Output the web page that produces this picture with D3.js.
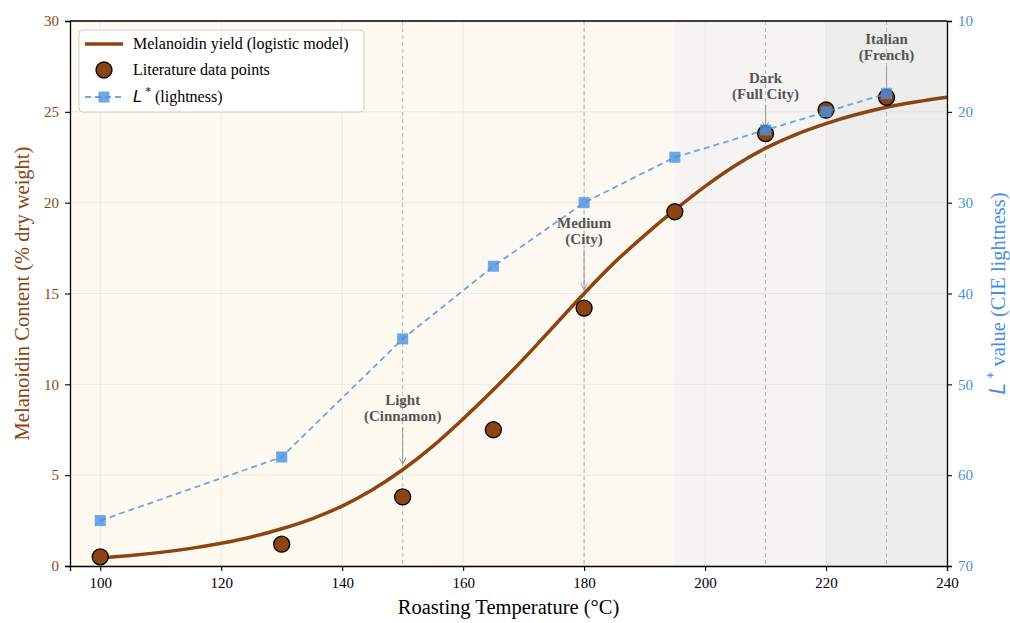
<!DOCTYPE html>
<html>
<head>
<meta charset="utf-8">
<script src="https://cdn.jsdelivr.net/npm/d3@7"></script>
<style>
  body { margin: 0; background: #fff; }
  svg text { font-family: "Liberation Serif", "Times New Roman", serif; }
</style>
</head>
<body>
<div id="chart"></div>
<script>
// measured points
const tempPoints = [100, 130, 150, 165, 180, 195, 210, 220, 230];
const melanoidin = [0.5, 1.2, 3.8, 7.5, 14.2, 19.5, 23.8, 25.1, 25.8];
const lightness = [65, 58, 45, 37, 30, 25, 22, 20, 18];

// logistic model curve
const curveTemps = [100, 105, 110, 115, 120, 125, 130, 135, 140, 145, 150, 155, 160, 165, 170, 175, 180, 185, 190, 195, 200, 205, 210, 215, 220, 225, 230, 235, 240];
const curveYield = [0.45, 0.58, 0.75, 0.97, 1.25, 1.6, 2.05, 2.6, 3.3, 4.2, 5.3, 6.6, 8.1, 9.7, 11.4, 13.2, 15.0, 16.7, 18.2, 19.6, 20.9, 22.05, 23.0, 23.75, 24.35, 24.85, 25.25, 25.55, 25.8];

// roast level bands
const bandStart = [90, 155, 195, 220];
const bandEnd = [155, 195, 220, 245];
const bandColor = ["#fefaf0", "#fdf8f1", "#f6f4f2", "#ededec"];

// roast level annotations
const roastTemps = [150, 180, 210, 230];
const roastTop = ["Light", "Medium", "Dark", "Italian"];
const roastBottom = ["(Cinnamon)", "(City)", "(Full City)", "(French)"];
const roastTextY = [8.85, 18.6, 26.6, 28.75];
const roastTarget = [5.6, 15.2, 24.1, 26.0];

const xTicks = [100, 120, 140, 160, 180, 200, 220, 240];
const yTicks = [0, 5, 10, 15, 20, 25, 30];
const lTicks = [10, 20, 30, 40, 50, 60, 70];

const brown = "#8B4513";
const blue = "#4A90E2";
const serif = "Liberation Serif";

const W = 1010, H = 623;
const margin = { top: 21, right: 63, bottom: 57, left: 70 };
const width = W - margin.left - margin.right;
const height = H - margin.top - margin.bottom;

const svg = d3.select("#chart").append("svg")
    .attr("width", W)
    .attr("height", H);

const g = svg.append("g")
    .attr("transform", `translate(${margin.left},${margin.top})`);

const x = d3.scaleLinear().domain([95, 240]).range([0, width]);
const y = d3.scaleLinear().domain([0, 30]).range([height, 0]);
const yL = d3.scaleLinear().domain([10, 70]).range([0, height]);

svg.append("defs").append("clipPath").attr("id", "clip")
    .append("rect").attr("width", width).attr("height", height);

const plot = g.append("g").attr("clip-path", "url(#clip)");

// background bands
plot.selectAll(".band")
    .data(bandStart)
    .enter().append("rect")
    .attr("x", d => x(d))
    .attr("y", 0)
    .attr("width", (d, i) => x(bandEnd[i]) - x(d))
    .attr("height", height)
    .attr("fill", (d, i) => bandColor[i]);

// grid
plot.selectAll(".vgrid")
    .data(xTicks)
    .enter().append("line")
    .attr("x1", d => x(d)).attr("x2", d => x(d))
    .attr("y1", 0).attr("y2", height)
    .attr("stroke", "#b0b0b0").attr("stroke-opacity", 0.25).attr("stroke-width", 0.8);
plot.selectAll(".hgrid")
    .data(yTicks)
    .enter().append("line")
    .attr("x1", 0).attr("x2", width)
    .attr("y1", d => y(d)).attr("y2", d => y(d))
    .attr("stroke", "#b0b0b0").attr("stroke-opacity", 0.25).attr("stroke-width", 0.8);

// roast level dashed lines
plot.selectAll(".rline")
    .data(roastTemps)
    .enter().append("line")
    .attr("x1", d => x(d)).attr("x2", d => x(d))
    .attr("y1", 0).attr("y2", height)
    .attr("stroke", "#999").attr("stroke-opacity", 0.7)
    .attr("stroke-width", 1).attr("stroke-dasharray", "4,3");

// logistic curve
const curveData = curveTemps.map((t, i) => [t, curveYield[i]]);
plot.append("path")
    .datum(curveData)
    .attr("fill", "none")
    .attr("stroke", brown)
    .attr("stroke-width", 3.5)
    .attr("d", d3.line().x(d => x(d[0])).y(d => y(d[1])).curve(d3.curveCatmullRom));

// annotations
svg.append("defs").append("marker")
    .attr("id", "arrow")
    .attr("viewBox", "0 0 10 10")
    .attr("refX", 9).attr("refY", 5)
    .attr("markerWidth", 8).attr("markerHeight", 8)
    .attr("markerUnits", "userSpaceOnUse")
    .attr("orient", "auto")
    .append("path")
    .attr("d", "M1,1 L9,5 L1,9")
    .attr("fill", "none")
    .attr("stroke", "#999")
    .attr("stroke-width", 1.2);

roastTemps.forEach((t, i) => {
    const tx = x(t);
    const ty = y(roastTextY[i]);
    plot.append("line")
        .attr("x1", tx).attr("x2", tx)
        .attr("y1", ty + 22).attr("y2", y(roastTarget[i]))
        .attr("stroke", "#999").attr("stroke-width", 1)
        .attr("marker-end", "url(#arrow)");
    const txt = plot.append("text")
        .attr("text-anchor", "middle")
        .attr("font-weight", "bold")
        .attr("font-size", 15)
        .attr("fill", "#555");
    txt.append("tspan").attr("x", tx).attr("y", ty).text(roastTop[i]);
    txt.append("tspan").attr("x", tx).attr("y", ty + 16).text(roastBottom[i]);
});

// literature points
plot.selectAll(".pt")
    .data(tempPoints)
    .enter().append("circle")
    .attr("cx", d => x(d))
    .attr("cy", (d, i) => y(melanoidin[i]))
    .attr("r", 8)
    .attr("fill", brown)
    .attr("stroke", "#000")
    .attr("stroke-width", 1.3);

// L* line
const lData = tempPoints.map((t, i) => [t, lightness[i]]);
plot.append("path")
    .datum(lData)
    .attr("fill", "none")
    .attr("stroke", blue)
    .attr("stroke-opacity", 0.8)
    .attr("stroke-width", 1.8)
    .attr("stroke-dasharray", "6,4")
    .attr("d", d3.line().x(d => x(d[0])).y(d => yL(d[1])));

plot.selectAll(".sq")
    .data(lData)
    .enter().append("rect")
    .attr("x", d => x(d[0]) - 5.5)
    .attr("y", d => yL(d[1]) - 5.5)
    .attr("width", 11).attr("height", 11)
    .attr("fill", blue)
    .attr("fill-opacity", 0.8);

// axes
const xAxis = g.append("g")
    .attr("transform", `translate(0,${height})`)
    .call(d3.axisBottom(x).tickValues(xTicks).tickSize(5).tickPadding(6));
xAxis.selectAll("text").attr("font-size", 15).attr("fill", "#000");

const yAxis = g.append("g")
    .call(d3.axisLeft(y).tickValues(yTicks).tickSize(5).tickPadding(6));
yAxis.selectAll("text").attr("font-size", 15).attr("fill", brown);

const yAxisR = g.append("g")
    .attr("transform", `translate(${width},0)`)
    .call(d3.axisRight(yL).tickValues(lTicks).tickSize(5).tickPadding(6));
yAxisR.selectAll("text").attr("font-size", 15).attr("fill", blue);

[xAxis, yAxis, yAxisR].forEach(a => {
    a.attr("font-family", serif);
    a.select(".domain").attr("stroke", "#000").attr("stroke-width", 1.3);
    a.selectAll(".tick line").attr("stroke", "#000").attr("stroke-width", 1.1);
});

// top spine
g.append("line")
    .attr("x1", 0).attr("x2", width).attr("y1", 0).attr("y2", 0)
    .attr("stroke", "#000").attr("stroke-width", 1.3);

// axis labels
svg.append("text")
    .attr("x", margin.left + width / 2)
    .attr("y", 614)
    .attr("text-anchor", "middle")
    .attr("font-size", 20.5)
    .text("Roasting Temperature (°C)");

svg.append("text")
    .attr("transform", `translate(29,${margin.top + height / 2}) rotate(-90)`)
    .attr("text-anchor", "middle")
    .attr("font-size", 20.5)
    .attr("fill", brown)
    .text("Melanoidin Content (% dry weight)");

const rLabel = svg.append("text")
    .attr("transform", `translate(1005,${margin.top + height / 2}) rotate(-90)`)
    .attr("text-anchor", "middle")
    .attr("font-size", 20.5)
    .attr("fill", blue);
rLabel.append("tspan").attr("font-style", "italic").style("font-family", "DejaVu Sans").text("L");
rLabel.append("tspan").style("font-family", "DejaVu Sans").attr("font-size", 14).attr("dy", -8).text(" *");
rLabel.append("tspan").attr("dy", 8).text(" value (CIE lightness)");

// legend
const legend = g.append("g").attr("transform", "translate(9,9)");
legend.append("rect")
    .attr("width", 285).attr("height", 82)
    .attr("rx", 4)
    .attr("fill", "#fff").attr("fill-opacity", 0.85)
    .attr("stroke", "#ccc");

const legY = [14, 40, 67];
legend.append("line")
    .attr("x1", 6).attr("x2", 44).attr("y1", legY[0]).attr("y2", legY[0])
    .attr("stroke", brown).attr("stroke-width", 3.5);
legend.append("circle")
    .attr("cx", 25).attr("cy", legY[1]).attr("r", 8)
    .attr("fill", brown).attr("stroke", "#000").attr("stroke-width", 1.3);
legend.append("line")
    .attr("x1", 6).attr("x2", 44).attr("y1", legY[2]).attr("y2", legY[2])
    .attr("stroke", blue).attr("stroke-opacity", 0.8)
    .attr("stroke-width", 1.8).attr("stroke-dasharray", "6,4");
legend.append("rect")
    .attr("x", 19.5).attr("y", legY[2] - 5.5).attr("width", 11).attr("height", 11)
    .attr("fill", blue).attr("fill-opacity", 0.8);

legend.append("text").attr("x", 54).attr("y", legY[0] + 5).attr("font-size", 16)
    .text("Melanoidin yield (logistic model)");
legend.append("text").attr("x", 54).attr("y", legY[1] + 5).attr("font-size", 16)
    .text("Literature data points");
const l3 = legend.append("text").attr("x", 54).attr("y", legY[2] + 5).attr("font-size", 16);
l3.append("tspan").attr("font-style", "italic").style("font-family", "DejaVu Sans").text("L");
l3.append("tspan").style("font-family", "DejaVu Sans").attr("font-size", 11).attr("dy", -7).text(" *");
l3.append("tspan").attr("dy", 7).text("  (lightness)");
</script>
</body>
</html>
